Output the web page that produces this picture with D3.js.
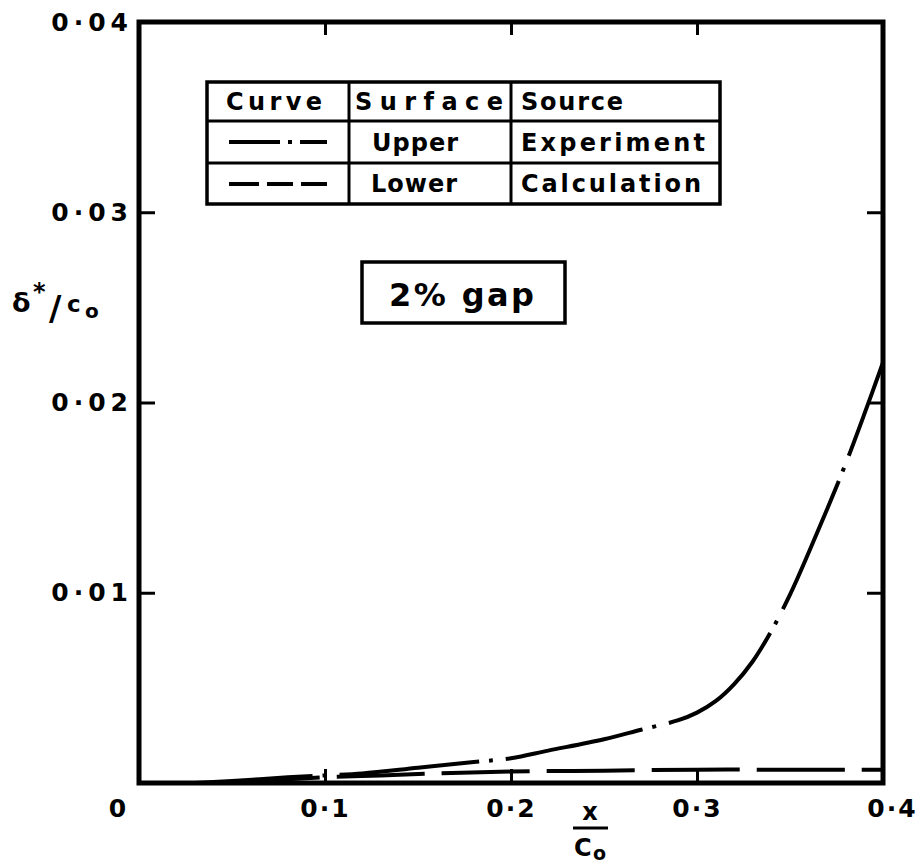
<!DOCTYPE html>
<html>
<head>
<meta charset="utf-8">
<script src="https://cdn.jsdelivr.net/npm/d3@7"></script>
<style>
    body { margin: 0; background: #fff; }
    text { font-family: "DejaVu Sans", sans-serif; font-weight: bold; fill: #000; }
</style>
</head>
<body>
<div id="chart-area"></div>
<script>
// upper surface, experiment (chain line)
var upperX = [0.03, 0.05, 0.08, 0.10, 0.12, 0.15, 0.18, 0.20, 0.22, 0.25, 0.27, 0.29, 0.30,
              0.31, 0.32, 0.33, 0.34, 0.35, 0.36, 0.37, 0.38, 0.39, 0.40];
var upperY = [0.0000, 0.0001, 0.0003, 0.0004, 0.0005, 0.0008, 0.0011, 0.0013, 0.0017, 0.0023, 0.0028, 0.0033, 0.0037,
              0.0043, 0.0052, 0.0064, 0.0080, 0.0099, 0.0121, 0.0144, 0.0168, 0.0194, 0.0221];
// lower surface, calculation (dashed)
var lowerX = [0.05, 0.08, 0.10, 0.13, 0.16, 0.20, 0.25, 0.30, 0.35, 0.40];
var lowerY = [0.0000, 0.0002, 0.0003, 0.0004, 0.0005, 0.0006, 0.00065, 0.0007, 0.0007, 0.0007];

var xTicks = [0, 0.1, 0.2, 0.3, 0.4];
var xTickLabels = ["0", "0·1", "0·2", "0·3", "0·4"];
var yTicks = [0.01, 0.02, 0.03, 0.04];
var yTickLabels = ["0·01", "0·02", "0·03", "0·04"];

var tableHead = ["Curve", "Surface", "Source"];
var tableSurface = ["Upper", "Lower"];
var tableSource = ["Experiment", "Calculation"];

var margin = { left: 139, right: 34, top: 22, bottom: 81 };
var width = 917 - margin.left - margin.right,
    height = 864 - margin.top - margin.bottom;

var svg = d3.select("#chart-area").append("svg")
    .attr("width", 917)
    .attr("height", 864);

var g = svg.append("g")
    .attr("transform", "translate(" + margin.left + "," + margin.top + ")");

var x = d3.scaleLinear().domain([0, 0.4]).range([0, width]);
var y = d3.scaleLinear().domain([0, 0.04]).range([height, 0]);

// inward ticks on all four sides
var inner = [0.1, 0.2, 0.3];
g.append("g").attr("transform", "translate(0," + height + ")")
    .call(d3.axisBottom(x).tickValues(inner).tickSizeInner(-14).tickSizeOuter(0).tickFormat(""));
g.append("g")
    .call(d3.axisTop(x).tickValues(inner).tickSizeInner(-13).tickSizeOuter(0).tickFormat(""));
g.append("g")
    .call(d3.axisRight(y).tickValues([0.01, 0.02, 0.03]).tickSizeInner(-16).tickSizeOuter(0).tickFormat(""))
    .attr("transform", "translate(" + width + ",0)");

var yAxis = g.append("g")
    .call(d3.axisLeft(y).tickValues(yTicks).tickSizeInner(-16).tickSizeOuter(0).tickPadding(11)
        .tickFormat(function(d, i){ return yTickLabels[i]; }));

var xAxis = g.append("g").attr("transform", "translate(0," + height + ")")
    .call(d3.axisBottom(x).tickValues(xTicks).tickSize(0).tickPadding(16)
        .tickFormat(function(d, i){ return xTickLabels[i]; }));

g.selectAll(".domain").remove();
g.selectAll(".tick line").attr("stroke", "#000").attr("stroke-width", 3);

yAxis.selectAll("text")
    .attr("font-size", "25px")
    .attr("letter-spacing", "5px")
    .attr("dx", "5px")
    .attr("font-family", "DejaVu Sans")
    .attr("font-weight", "bold");

xAxis.selectAll("text")
    .attr("font-size", "25px")
    .attr("letter-spacing", "2px")
    .attr("font-family", "DejaVu Sans")
    .attr("font-weight", "bold")
    .attr("dx", function(d){ return d === 0 ? "-21px" : (d === 0.4 ? "9px" : "0px"); });

// frame
g.append("rect")
    .attr("width", width)
    .attr("height", height)
    .attr("fill", "none")
    .attr("stroke", "#000")
    .attr("stroke-width", 5);

// curves
var line = d3.line()
    .x(function(d){ return x(d[0]); })
    .y(function(d){ return y(d[1]); })
    .curve(d3.curveCatmullRom.alpha(0.5));

var upper = upperX.map(function(d, i){ return [d, upperY[i]]; });
var lower = lowerX.map(function(d, i){ return [d, lowerY[i]]; });

g.append("path")
    .datum(lower)
    .attr("d", line)
    .attr("fill", "none")
    .attr("stroke", "#000")
    .attr("stroke-width", 4)
    .attr("stroke-dasharray", "88,17");

g.append("path")
    .datum(upper)
    .attr("d", line)
    .attr("fill", "none")
    .attr("stroke", "#000")
    .attr("stroke-width", 4)
    .attr("stroke-dasharray", "140,10,4,13")
    .attr("stroke-dashoffset", 22);

// legend table
var tbl = svg.append("g");
var tx = [207, 349, 511, 720], ty = [82, 121, 163, 204];
tbl.append("rect")
    .attr("x", tx[0]).attr("y", ty[0])
    .attr("width", tx[3] - tx[0]).attr("height", ty[3] - ty[0])
    .attr("fill", "#fff").attr("stroke", "#000").attr("stroke-width", 3.5);
[tx[1], tx[2]].forEach(function(v){
    tbl.append("line").attr("x1", v).attr("x2", v).attr("y1", ty[0]).attr("y2", ty[3])
        .attr("stroke", "#000").attr("stroke-width", 3);
});
[ty[1], ty[2]].forEach(function(v){
    tbl.append("line").attr("x1", tx[0]).attr("x2", tx[3]).attr("y1", v).attr("y2", v)
        .attr("stroke", "#000").attr("stroke-width", 3);
});

function cell(str, xx, yy, len) {
    tbl.append("text")
        .attr("x", xx).attr("y", yy)
        .attr("font-size", "24px")
        .attr("textLength", len)
        .attr("lengthAdjust", "spacing")
        .text(str);
}
cell(tableHead[0], 226, 110, 96);
cell(tableHead[1], 355, 110, 148);
cell(tableHead[2], 521, 110, 102);
cell(tableSurface[0], 372, 151, 86);
cell(tableSurface[1], 371, 192, 86);
cell(tableSource[0], 521, 151, 184);
cell(tableSource[1], 521, 192, 180);

tbl.append("line").attr("x1", 229).attr("x2", 327).attr("y1", 142).attr("y2", 142)
    .attr("stroke", "#000").attr("stroke-width", 4).attr("stroke-dasharray", "51,8,4,8,40");
tbl.append("line").attr("x1", 229).attr("x2", 327).attr("y1", 184).attr("y2", 184)
    .attr("stroke", "#000").attr("stroke-width", 4).attr("stroke-dasharray", "30,8,26,8,40");

// gap note
svg.append("rect")
    .attr("x", 362).attr("y", 262).attr("width", 203).attr("height", 61)
    .attr("fill", "#fff").attr("stroke", "#000").attr("stroke-width", 3.5);
svg.append("text")
    .attr("x", 389).attr("y", 306)
    .attr("font-size", "32px")
    .attr("textLength", 145)
    .attr("lengthAdjust", "spacing")
    .text("2% gap");

// y label
var yl = svg.append("g");
yl.append("text").attr("x", 12).attr("y", 312).attr("font-size", "27px").text("δ");
yl.append("text").attr("x", 33).attr("y", 300).attr("font-size", "24px").text("*");
yl.append("text").attr("x", 49).attr("y", 320).attr("font-size", "34px").attr("font-weight", "normal").text("/");
yl.append("text").attr("x", 67).attr("y", 312).attr("font-size", "23px").text("c");
yl.append("text").attr("x", 85).attr("y", 318).attr("font-size", "20px").text("o");

// x label
var xl = svg.append("g");
xl.append("text").attr("x", 590).attr("y", 820).attr("font-size", "24px")
    .attr("text-anchor", "middle").attr("font-family", "DejaVu Serif").text("x");
xl.append("line").attr("x1", 573).attr("x2", 608).attr("y1", 828).attr("y2", 828)
    .attr("stroke", "#000").attr("stroke-width", 3);
xl.append("text").attr("x", 574).attr("y", 856).attr("font-size", "24px").text("C");
xl.append("text").attr("x", 593).attr("y", 860).attr("font-size", "19px").text("o");
</script>
</body>
</html>
